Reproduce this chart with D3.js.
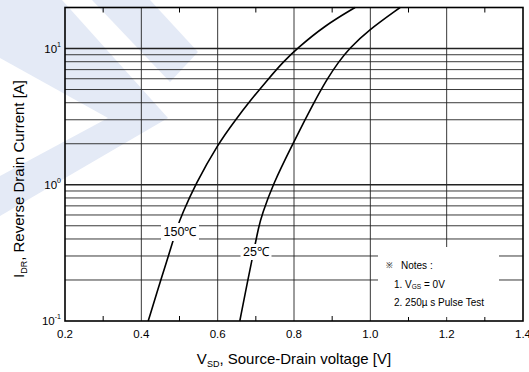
<!DOCTYPE html>
<html>
<head>
<meta charset="utf-8">
<script src="https://cdn.jsdelivr.net/npm/d3@7"></script>
<style>
  body { margin: 0; background: #fff; }
  svg { display: block; font-family: Arial, "Liberation Sans", sans-serif; }
</style>
</head>
<body>
<svg id="chart" width="529" height="372"></svg>
<script>
// Reverse drain current vs source-drain voltage
const v150 = [0.418, 0.451, 0.471, 0.495, 0.506, 0.541, 0.601, 0.647, 0.681, 0.733, 0.772, 0.808, 0.880, 0.960];
const i150 = [0.1, 0.2, 0.3, 0.5, 0.6, 1, 2, 3, 4, 6, 8, 10, 14.7, 20];
const v25 = [0.658, 0.679, 0.692, 0.708, 0.716, 0.744, 0.797, 0.829, 0.852, 0.887, 0.917, 0.945, 0.993, 1.078];
const i25 = [0.1, 0.2, 0.3, 0.5, 0.6, 1, 2, 3, 4, 6, 8, 10, 13.5, 20];

const xTicks = [0.2, 0.4, 0.6, 0.8, 1.0, 1.2, 1.4];
const xMinor = [0.3, 0.5, 0.7, 0.9, 1.1, 1.3];
const yDecades = [0.1, 1, 10];
const yExp = ['-1', '0', '1'];
const notes = ['Notes :', '1. V', '2. 250\u00b5 s Pulse Test'];

const svg = d3.select('#chart');
const pLeft = 65, pRight = 523, pTop = 7.5, pBottom = 321;

const x = d3.scaleLinear().domain([0.2, 1.4]).range([pLeft, pRight]);
const y = d3.scaleLog().domain([0.1, 20]).range([pBottom, pTop]);

// Watermark shapes (pale blue) in the upper left
const wm = svg.append('g').attr('fill', '#e4eaf6');
wm.append('path').attr('d', 'M0,0 L62,0 L168,118 L0,216 Z');
wm.append('path').attr('d', 'M0,58 L108,118 L0,176 Z').attr('fill', '#fff');
wm.append('path').attr('d', 'M92,0 L150,0 L198,52 L170,82 Z');

// Horizontal grid: minor log lines and decades
const minorY = [];
[0.1, 1, 10].forEach(d => {
  for (let k = 2; k <= 9; k++) {
    const v = d * k;
    if (v < 20) minorY.push(v);
  }
});

const grid = svg.append('g').attr('stroke', '#222');
grid.selectAll('line.hy')
  .data(minorY)
  .enter().append('line')
  .attr('x1', pLeft).attr('x2', pRight)
  .attr('y1', d => y(d)).attr('y2', d => y(d))
  .attr('stroke-width', 0.9);

grid.selectAll('line.hd')
  .data([1, 10])
  .enter().append('line')
  .attr('x1', pLeft).attr('x2', pRight)
  .attr('y1', d => y(d)).attr('y2', d => y(d))
  .attr('stroke-width', 1.4);

grid.selectAll('line.vx')
  .data(xTicks.slice(1, -1))
  .enter().append('line')
  .attr('x1', d => x(d)).attr('x2', d => x(d))
  .attr('y1', pTop).attr('y2', pBottom)
  .attr('stroke-width', 0.9);

// Minor ticks at bottom and top
svg.append('g').selectAll('line')
  .data(xMinor)
  .enter().append('line')
  .attr('x1', d => x(d)).attr('x2', d => x(d))
  .attr('y1', pBottom).attr('y2', pBottom - 5)
  .attr('stroke', '#000');
svg.append('g').selectAll('line')
  .data(xMinor)
  .enter().append('line')
  .attr('x1', d => x(d)).attr('x2', d => x(d))
  .attr('y1', pTop).attr('y2', pTop + 5)
  .attr('stroke', '#000');

// Curves
const line = d3.line()
  .x(d => x(d[0]))
  .y(d => y(d[1]))
  .curve(d3.curveBasis);

svg.append('path')
  .datum(v150.map((v, i) => [v, i150[i]]))
  .attr('d', line)
  .attr('fill', 'none').attr('stroke', '#000').attr('stroke-width', 1.6);

svg.append('path')
  .datum(v25.map((v, i) => [v, i25[i]]))
  .attr('d', line)
  .attr('fill', 'none').attr('stroke', '#000').attr('stroke-width', 1.6);

// Curve labels on white patches
const labels = [
  { text: '150\u2103', x: 180, y: 232, w: 38, h: 18 },
  { text: '25\u2103', x: 256, y: 252, w: 31, h: 16 }
];
labels.forEach(l => {
  svg.append('rect')
    .attr('x', l.x - l.w / 2).attr('y', l.y - l.h / 2)
    .attr('width', l.w).attr('height', l.h)
    .attr('fill', '#fff');
  svg.append('text')
    .attr('x', l.x).attr('y', l.y)
    .attr('text-anchor', 'middle').attr('dominant-baseline', 'central')
    .attr('font-size', 12.5)
    .text(l.text);
});

// Notes box
svg.append('rect')
  .attr('x', 378).attr('y', 247).attr('width', 121).attr('height', 70)
  .attr('fill', '#fff');
svg.append('text')
  .attr('x', 386).attr('y', 265).attr('dominant-baseline', 'central')
  .attr('font-size', 8).text('\u203b');
svg.append('text')
  .attr('x', 401).attr('y', 265).attr('dominant-baseline', 'central')
  .attr('font-size', 10).text(notes[0]);
const n1 = svg.append('text')
  .attr('x', 394).attr('y', 284).attr('dominant-baseline', 'central')
  .attr('font-size', 10);
n1.append('tspan').text(notes[1]);
n1.append('tspan').attr('font-size', 6.5).attr('dy', 2).text('GS');
n1.append('tspan').attr('dy', -2).text(' = 0V');
svg.append('text')
  .attr('x', 394).attr('y', 302).attr('dominant-baseline', 'central')
  .attr('font-size', 10).text(notes[2]);

// Frame
svg.append('rect')
  .attr('x', pLeft).attr('y', pTop)
  .attr('width', pRight - pLeft).attr('height', pBottom - pTop)
  .attr('fill', 'none').attr('stroke', '#000').attr('stroke-width', 1.6);

// X tick labels
svg.append('g').selectAll('text')
  .data(xTicks)
  .enter().append('text')
  .attr('x', d => x(d)).attr('y', pBottom + 13)
  .attr('text-anchor', 'middle').attr('dominant-baseline', 'central')
  .attr('font-size', 11.5)
  .text(d => d.toFixed(1));

// Y tick labels (10^n)
yDecades.forEach((d, i) => {
  const t = svg.append('text')
    .attr('x', pLeft - 4).attr('y', y(d) + 4)
    .attr('text-anchor', 'end')
    .attr('font-size', 11.5);
  t.append('tspan').text('10');
  t.append('tspan').attr('font-size', 7).attr('dy', -6).text(yExp[i]);
});

// Axis titles
const xt = svg.append('text')
  .attr('x', 294).attr('y', 364)
  .attr('text-anchor', 'middle')
  .attr('font-size', 15);
xt.append('tspan').text('V');
xt.append('tspan').attr('font-size', 9).attr('dy', 3).text('SD');
xt.append('tspan').attr('dy', -3).text(', Source-Drain voltage [V]');

const yt = svg.append('text')
  .attr('transform', 'translate(24,' + 179 + ') rotate(-90)')
  .attr('text-anchor', 'middle')
  .attr('font-size', 15);
yt.append('tspan').text('I');
yt.append('tspan').attr('font-size', 9).attr('dy', 3).text('DR');
yt.append('tspan').attr('dy', -3).text(', Reverse Drain Current [A]');
</script>
</body>
</html>
